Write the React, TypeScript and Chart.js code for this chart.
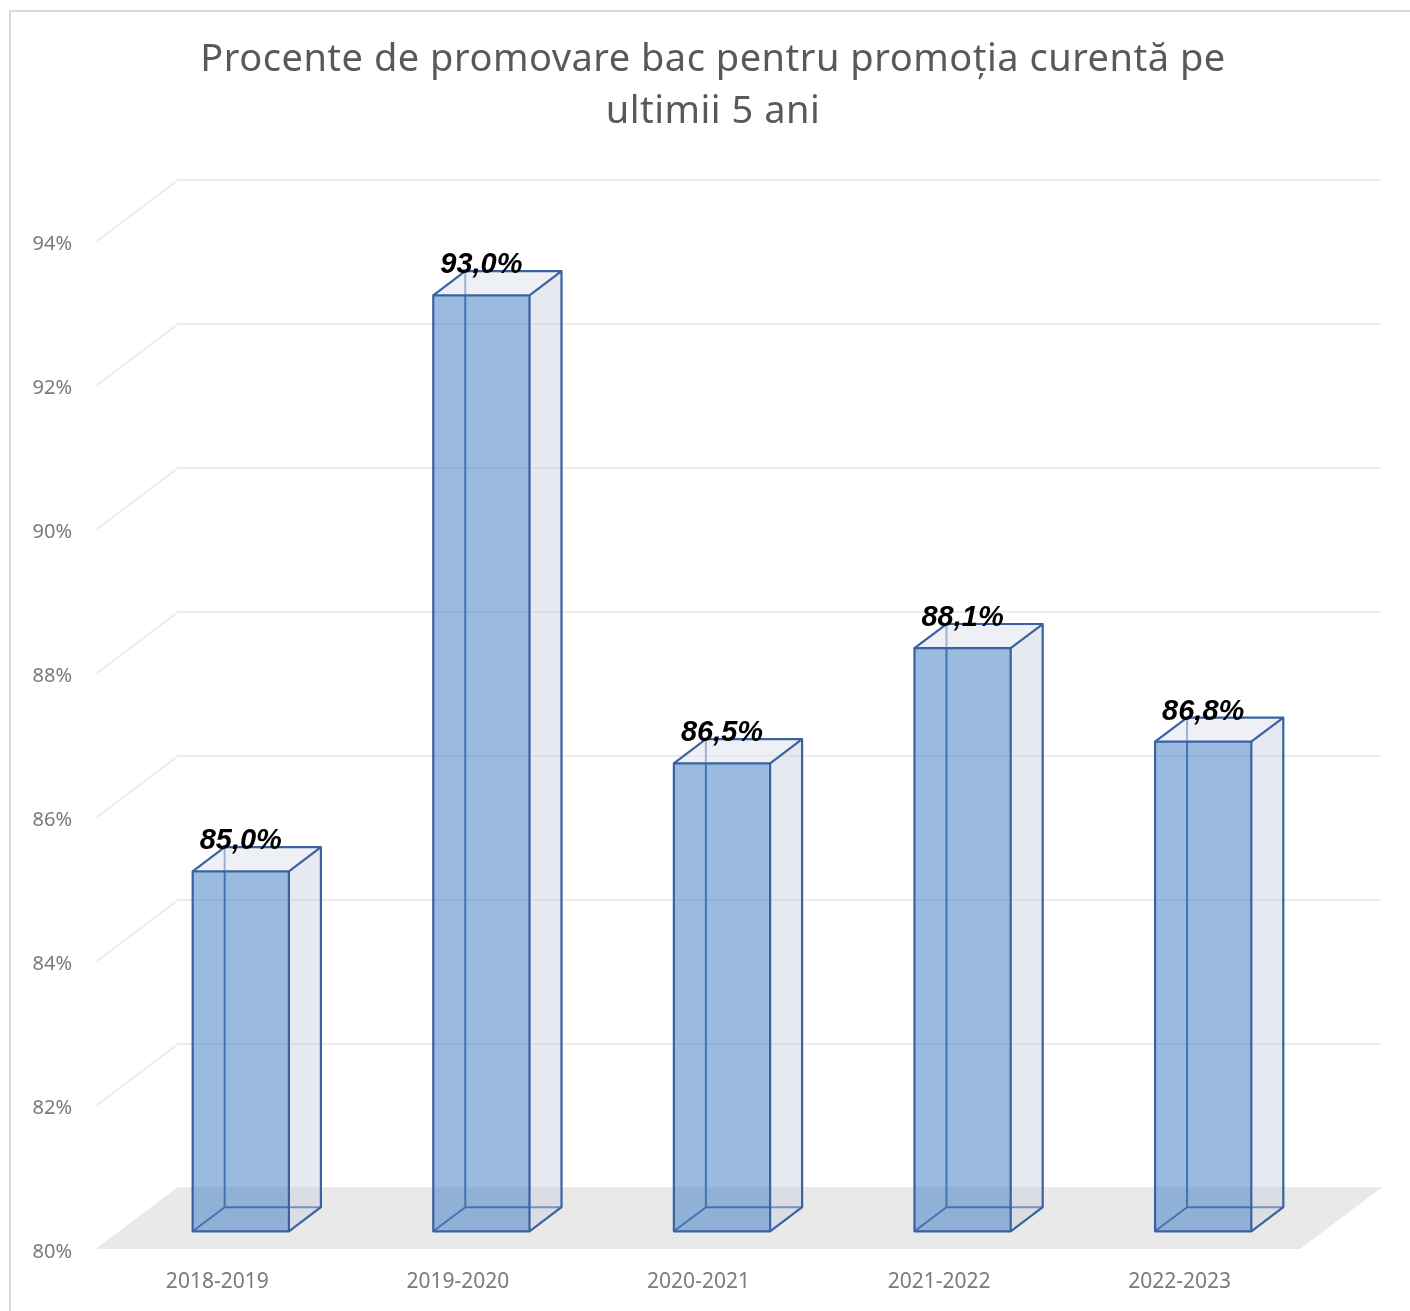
import React, { useEffect, useRef } from "react";
import { Chart, registerables } from "chart.js";

Chart.register(...registerables);

const titleLines = ["Procente de promovare bac pentru promoția curentă pe", "ultimii 5 ani"];
const categories = ["2018-2019", "2019-2020", "2020-2021", "2021-2022", "2022-2023"];
const values = [85.0, 93.0, 86.5, 88.1, 86.8];
const yMin = 80;
const yMax = 94;
const yStep = 2;

const DX = 81;
const DY = -61;
const FRONT = 0.29;
const BACK = 0.685;

const fmtValue = (v: number) => v.toFixed(1).replace(".", ",") + "%";

const box3dPlugin = {
  id: "box3d",
  beforeDraw(chart: any) {
    const { ctx, width, height } = chart;
    ctx.save();
    ctx.fillStyle = "#ffffff";
    ctx.fillRect(0, 0, width, height);
    ctx.strokeStyle = "#d9d9d9";
    ctx.lineWidth = 2;
    ctx.beginPath();
    ctx.moveTo(10, height + 5);
    ctx.lineTo(10, 11);
    ctx.lineTo(width + 5, 11);
    ctx.stroke();
    // title
    ctx.fillStyle = "#595959";
    ctx.font = "38px 'Noto Sans', sans-serif";
    try { (ctx as any).letterSpacing = "0.5px"; } catch (e) {}
    ctx.textAlign = "center";
    ctx.textBaseline = "middle";
    titleLines.forEach((line, i) => {
      ctx.fillText(line, 713, 60 + i * 52);
    });
    ctx.restore();
  },
  beforeDatasetsDraw(chart: any) {
    const { ctx, chartArea, scales } = chart;
    const { left, right, bottom } = chartArea;
    const y = scales.y;
    ctx.save();
    ctx.strokeStyle = "#ececec";
    ctx.lineWidth = 2;
    y.ticks.forEach((t: any) => {
      const py = y.getPixelForValue(t.value);
      ctx.beginPath();
      ctx.moveTo(left, py);
      ctx.lineTo(left + DX, py + DY);
      ctx.lineTo(right + DX, py + DY);
      ctx.stroke();
    });
    ctx.fillStyle = "#e9e9e9";
    ctx.beginPath();
    ctx.moveTo(left, bottom);
    ctx.lineTo(left + DX, bottom + DY);
    ctx.lineTo(right + DX, bottom + DY);
    ctx.lineTo(right, bottom);
    ctx.closePath();
    ctx.fill();
    ctx.restore();
  },
  afterDatasetsDraw(chart: any) {
    const { ctx } = chart;
    const meta = chart.getDatasetMeta(0);
    const ds = chart.data.datasets[0];
    const base = chart.scales.y.getPixelForValue(yMin);
    ctx.save();
    ctx.lineJoin = "round";
    meta.data.forEach((el: any, i: number) => {
      const w = el.width;
      const fdx = DX * FRONT, fdy = DY * FRONT;
      const bdx = DX * BACK, bdy = DY * BACK;
      const L = el.x - w / 2 + fdx, R = L + w;
      const T = el.y + fdy, B = base + fdy;
      const L2 = el.x - w / 2 + bdx, R2 = L2 + w;
      const T2 = el.y + bdy, B2 = base + bdy;
      const edge = "#3a62a0";

      // hidden edges
      ctx.strokeStyle = edge;
      ctx.lineWidth = 2;
      ctx.beginPath();
      ctx.moveTo(L2, T2); ctx.lineTo(L2, B2); ctx.lineTo(R2, B2);
      ctx.moveTo(L, B); ctx.lineTo(L2, B2);
      ctx.stroke();

      // side face
      ctx.fillStyle = "rgba(200,206,220,0.45)";
      ctx.beginPath();
      ctx.moveTo(R, T); ctx.lineTo(R2, T2); ctx.lineTo(R2, B2); ctx.lineTo(R, B);
      ctx.closePath();
      ctx.fill();

      // top face
      ctx.fillStyle = "rgba(226,230,240,0.6)";
      ctx.beginPath();
      ctx.moveTo(L, T); ctx.lineTo(L2, T2); ctx.lineTo(R2, T2); ctx.lineTo(R, T);
      ctx.closePath();
      ctx.fill();

      // front face
      ctx.fillStyle = "rgba(73,130,199,0.55)";
      ctx.fillRect(L, T, w, B - T);

      // visible edges
      ctx.strokeStyle = edge;
      ctx.lineWidth = 2.2;
      ctx.strokeRect(L, T, w, B - T);
      ctx.beginPath();
      ctx.moveTo(L, T); ctx.lineTo(L2, T2); ctx.lineTo(R2, T2); ctx.lineTo(R2, B2); ctx.lineTo(R, B);
      ctx.moveTo(R, T); ctx.lineTo(R2, T2);
      ctx.stroke();

      // value label
      ctx.fillStyle = "#000000";
      ctx.font = "italic bold 29px 'Liberation Sans', Arial, sans-serif";
      ctx.textAlign = "center";
      ctx.textBaseline = "alphabetic";
      ctx.fillText(fmtValue(ds.data[i] as number), L + w / 2, T - 22);
    });
    ctx.restore();
  },
};

export default function App() {
  const ref = useRef<HTMLCanvasElement | null>(null);
  useEffect(() => {
    if (!ref.current) return;
    const chart = new Chart(ref.current, {
      type: "bar",
      data: {
        labels: categories,
        datasets: [
          {
            data: values,
            backgroundColor: "rgba(0,0,0,0)",
            borderWidth: 0,
            barPercentage: 0.4,
            categoryPercentage: 1,
          },
        ],
      },
      options: {
        responsive: false,
        animation: false,
        devicePixelRatio: 1,
        layout: { padding: { left: 10, right: 110, top: 241, bottom: 0 } },
        plugins: {
          legend: { display: false },
          tooltip: { enabled: false },
          title: { display: false },
        },
        scales: {
          x: {
            grid: { display: false, drawTicks: false },
            border: { display: false },
            ticks: {
              color: "#7a7a7a",
              font: { family: "'Noto Sans', sans-serif", size: 21 },
              padding: 20,
            },
            afterFit: (s: any) => { s.height = 62; },
          },
          y: {
            min: yMin,
            max: yMax,
            grid: { display: false, drawTicks: false },
            border: { display: false },
            ticks: {
              stepSize: yStep,
              color: "#7a7a7a",
              font: { family: "'Noto Sans', sans-serif", size: 20 },
              padding: 25,
              labelOffset: 3,
              callback: (v: any) => v + "%",
            },
            afterFit: (s: any) => { s.width = 87; },
          },
        },
      },
      plugins: [box3dPlugin],
    });
    return () => chart.destroy();
  }, []);
  return (
    <div style={{ position: "absolute", left: 0, top: 0, width: 1410, height: 1311, overflow: "hidden" }}>
      <canvas ref={ref} width={1410} height={1311} style={{ display: "block" }} />
    </div>
  );
}
